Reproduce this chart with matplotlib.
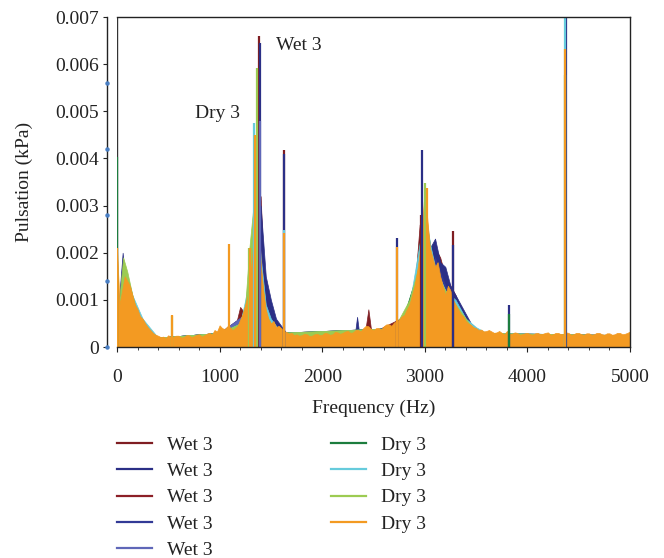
import numpy as np
import matplotlib
matplotlib.use("Agg")
import matplotlib.pyplot as plt
from matplotlib.ticker import MultipleLocator, FuncFormatter
from matplotlib.lines import Line2D
import matplotlib.transforms as mtransforms

plt.rcParams['font.family'] = ['Liberation Serif', 'DejaVu Serif']

# ---------------- data (kPa) ----------------
labels = ["Wet 3", "Wet 3", "Wet 3", "Wet 3", "Wet 3", "Dry 3", "Dry 3", "Dry 3", "Dry 3"]
colors = ["#7f1d22", "#2b2f86", "#8c1f27", "#323a96", "#5f67b8",
          "#1c7d3e", "#66cbdc", "#9ccb52", "#f39a22"]

# Wet 3 (1)
wet1_f = [0, 40, 70, 100, 150, 200, 300, 400, 1000, 1150, 1200, 1250, 1300, 1350, 1400, 1430, 1470, 1550,
          1600, 2420, 2450, 2480, 2850, 2900, 2950, 3000, 3050, 3100, 3150, 3200, 3250, 3300, 3350, 3400,
          3450, 3500, 3550, 5000]
wet1_a = [0.0003, 0.0012, 0.0015, 0.0012, 0.0009, 0.0006, 0.0003, 0.0002, 0.0003, 0.0004, 0.00085, 0.0007,
          0.0013, 0.0027, 0.0032, 0.0016, 0.0008, 0.0004, 0.0003, 0.00035, 0.0008, 0.0003, 0.0007, 0.0012,
          0.0026, 0.0022, 0.002, 0.0021, 0.0019, 0.0015, 0.0013, 0.0011, 0.0008, 0.0006, 0.0004, 0.00032,
          0.00025, 0.00025]
wet1_spike_f = [1384, 1628, 2960, 3275]
wet1_spike_a = [0.0066, 0.00418, 0.0028, 0.00246]

# Wet 3 (2)
wet2_f = [0, 30, 55, 80, 120, 200, 300, 400, 1000, 1200, 1300, 1350, 1400, 1450, 1500, 1550, 1600, 1650,
          2320, 2340, 2360, 2800, 2850, 2900, 2950, 3000, 3050, 3100, 3150, 3200, 3250, 3300, 3350, 3400,
          3450, 3500, 3550, 5000]
wet2_a = [0.0005, 0.0013, 0.002, 0.0014, 0.001, 0.0006, 0.0003, 0.0002, 0.0003, 0.0005, 0.0012, 0.0025,
          0.003, 0.0015, 0.001, 0.0006, 0.00045, 0.0003, 0.0003, 0.00064, 0.0003, 0.0005, 0.0007, 0.0013,
          0.0021, 0.0025, 0.0021, 0.0023, 0.0018, 0.0017, 0.0013, 0.0011, 0.0009, 0.0007, 0.0005, 0.0004,
          0.00028, 0.00025]
wet2_spike_f = [1394, 1628, 2729, 2973, 3275, 3821, 4372]
wet2_spike_a = [0.00645, 0.0041, 0.00231, 0.00418, 0.00216, 0.00089, 0.007]

# Wet 3 (3)
wet3_f = [0, 100, 300, 400, 1000, 1250, 1300, 1380, 1450, 1550, 2700, 2850, 2950, 3050, 3150, 3300, 3400,
          3500, 5000]
wet3_a = [0.0003, 0.0011, 0.0003, 0.0002, 0.0003, 0.0007, 0.0012, 0.0026, 0.0007, 0.0003, 0.0004, 0.0008,
          0.0015, 0.0018, 0.0014, 0.0009, 0.0006, 0.0003, 0.00025]
wet3_spike_f = []
wet3_spike_a = []

# Wet 3 (4)
wet4_f = [0, 80, 300, 400, 1000, 1250, 1300, 1390, 1450, 1550, 2700, 2850, 2950, 3100, 3200, 3400, 3500, 5000]
wet4_a = [0.0003, 0.0012, 0.0003, 0.0002, 0.0003, 0.0007, 0.0011, 0.0024, 0.0008, 0.0003, 0.0004, 0.0008,
          0.0014, 0.0019, 0.0013, 0.0006, 0.0003, 0.00025]
wet4_spike_f = []
wet4_spike_a = []

# Wet 3 (5)
wet5_f = [0, 90, 300, 400, 1000, 1250, 1300, 1390, 1450, 1550, 2700, 2850, 3000, 3200, 3400, 3500, 5000]
wet5_a = [0.0003, 0.001, 0.0003, 0.0002, 0.0003, 0.0007, 0.001, 0.0022, 0.0007, 0.0003, 0.0004, 0.0008,
          0.0016, 0.0012, 0.0005, 0.0003, 0.00025]
wet5_spike_f = [1392]
wet5_spike_a = [0.0048]

# Dry 3 (1)
dry1_f = [0, 20, 50, 100, 200, 300, 400, 1000, 1200, 1250, 1300, 1350, 1400, 1450, 1550, 2700, 2800, 2900,
          2950, 3000, 3100, 3200, 3400, 3500, 5000]
dry1_a = [0.0004, 0.0008, 0.0015, 0.0012, 0.0007, 0.0003, 0.0002, 0.0003, 0.0005, 0.0009, 0.0016, 0.0035,
          0.0016, 0.0007, 0.0003, 0.0004, 0.0007, 0.0014, 0.0022, 0.0028, 0.0016, 0.0011, 0.0005, 0.0003,
          0.00025]
dry1_spike_f = [0, 3821]
dry1_spike_a = [0.00403, 0.0007]

# Dry 3 (2)
dry2_f = [0, 50, 100, 150, 250, 400, 1000, 1200, 1250, 1300, 1340, 1400, 1450, 1500, 1600, 2700, 2850, 2950,
          3000, 3050, 3100, 3200, 3300, 3400, 3500, 3600, 5000]
dry2_a = [0.0004, 0.0013, 0.0015, 0.0011, 0.0006, 0.0002, 0.0003, 0.0005, 0.001, 0.0016, 0.0035, 0.0019,
          0.0009, 0.0006, 0.0003, 0.0004, 0.0009, 0.0022, 0.003, 0.0022, 0.0017, 0.0012, 0.001, 0.0006,
          0.00042, 0.0003, 0.00025]
dry2_spike_f = [1340, 1628, 4366]
dry2_spike_a = [0.00475, 0.00248, 0.007]

# Dry 3 (3)
dry3_f = [0, 30, 60, 100, 150, 200, 300, 400, 1000, 1200, 1250, 1290, 1330, 1360, 1400, 1450, 1550, 2700,
          2850, 2950, 3000, 3050, 3100, 3200, 3300, 3400, 3500, 5000]
dry3_a = [0.0005, 0.0012, 0.0019, 0.0016, 0.0011, 0.0007, 0.00035, 0.0002, 0.0003, 0.0005, 0.0009, 0.0021,
          0.003, 0.0034, 0.0017, 0.0007, 0.0003, 0.0004, 0.001, 0.0018, 0.0028, 0.002, 0.0016, 0.0012,
          0.0009, 0.0006, 0.0003, 0.00025]
dry3_spike_f = [536, 1290, 1360, 3002, 4370]
dry3_spike_a = [0.00065, 0.0021, 0.00592, 0.00348, 0.00577]

# Dry 3 (4) -- sampled every 25 Hz
dry4_f = list(range(0, 5001, 25))
dry4_a = [
    0.0021, 0.0009, 0.0012, 0.0015, 0.0014, 0.0013, 0.0011, 0.0009, 0.0008, 0.00065,
    0.0006, 0.0005, 0.00042, 0.00036, 0.0003, 0.00026, 0.00024, 0.00021, 0.00022, 0.00019,
    0.00025, 0.0002, 0.00022, 0.00024, 0.00024, 0.0002, 0.00021, 0.00025, 0.00025, 0.00021,
    0.00023, 0.00026, 0.00027, 0.00022, 0.00025, 0.00028, 0.0003, 0.00026, 0.00036, 0.00033,
    0.00046, 0.0004, 0.00038, 0.00044, 0.00042, 0.00036, 0.0004, 0.00045, 0.00058, 0.0007,
    0.0009, 0.0011, 0.0015, 0.0021, 0.0045, 0.0032, 0.0018, 0.0012, 0.0008, 0.0006,
    0.0005, 0.00055, 0.00042, 0.00045, 0.0004, 0.00034, 0.00032, 0.00028, 0.0003, 0.00025,
    0.00027, 0.00024, 0.00025, 0.00028, 0.00027, 0.00023, 0.00024, 0.00027, 0.00028, 0.00025,
    0.00026, 0.0003, 0.00029, 0.00026, 0.00027, 0.00032, 0.00031, 0.00028, 0.0003, 0.00033,
    0.00034, 0.0003, 0.00031, 0.00036, 0.00036, 0.00033, 0.0004, 0.00045, 0.00044, 0.00038,
    0.00036, 0.0004, 0.0004, 0.00037, 0.00044, 0.00048, 0.00048, 0.00045, 0.00052, 0.00055,
    0.00058, 0.00065, 0.00068, 0.0008, 0.0009, 0.0011, 0.0013, 0.0016, 0.002, 0.0026,
    0.0034, 0.0027, 0.0021, 0.0019, 0.0017, 0.0018, 0.0015, 0.0013, 0.0011, 0.0013,
    0.0012, 0.001, 0.0009, 0.0008, 0.0007, 0.00065, 0.00055, 0.0005, 0.00047, 0.00042,
    0.0004, 0.00036, 0.00037, 0.00033, 0.00034, 0.00036, 0.00033, 0.0003, 0.00031, 0.00034,
    0.0003, 0.00027, 0.00034, 0.00028, 0.00028, 0.00031, 0.0003, 0.00026, 0.00027, 0.00029,
    0.0003, 0.00027, 0.00026, 0.00029, 0.0003, 0.00027, 0.00028, 0.0003, 0.00031, 0.00026,
    0.00027, 0.0003, 0.0003, 0.00027, 0.00028, 0.00031, 0.0003, 0.00026, 0.00027, 0.0003,
    0.0003, 0.00027, 0.00026, 0.00029, 0.00029, 0.00026, 0.00027, 0.0003, 0.0003, 0.00027,
    0.00026, 0.00029, 0.00029, 0.00026, 0.00027, 0.0003, 0.0003, 0.00027, 0.00028, 0.0003,
    0.00033]
dry4_spike_f = [0, 536, 1092, 1300, 1345, 1628, 2729, 3021, 4366]
dry4_spike_a = [0.0021, 0.00068, 0.00218, 0.0021, 0.0045, 0.00242, 0.00212, 0.00337, 0.00632]

axis_marker_vals = [0, 0.0014, 0.0028, 0.0042, 0.0056]

series = [
    (wet1_f, wet1_a, wet1_spike_f, wet1_spike_a),
    (wet2_f, wet2_a, wet2_spike_f, wet2_spike_a),
    (wet3_f, wet3_a, wet3_spike_f, wet3_spike_a),
    (wet4_f, wet4_a, wet4_spike_f, wet4_spike_a),
    (wet5_f, wet5_a, wet5_spike_f, wet5_spike_a),
    (dry1_f, dry1_a, dry1_spike_f, dry1_spike_a),
    (dry2_f, dry2_a, dry2_spike_f, dry2_spike_a),
    (dry3_f, dry3_a, dry3_spike_f, dry3_spike_a),
    (dry4_f, dry4_a, dry4_spike_f, dry4_spike_a),
]

# ---------------- figure ----------------
W, H = 664, 558
fig = plt.figure(figsize=(W / 100, H / 100), dpi=100)
ax = fig.add_axes([117 / W, 1 - 347 / H, (630 - 117) / W, (347 - 17) / H])

for (f, a, sf, sa), c in zip(series, colors):
    n = min(len(f), len(a))
    ax.fill_between(f[:n], 0, a[:n], color=c, linewidth=0.5, edgecolor=c)
    if sf:
        ax.vlines(sf, 0, sa, color=c, linewidth=1.6)

ax.set_xlim(0, 5000)
ax.set_ylim(0, 0.007)

ax.xaxis.set_major_locator(MultipleLocator(1000))
ax.xaxis.set_minor_locator(MultipleLocator(200))
ax.yaxis.set_major_locator(MultipleLocator(0.001))
ax.yaxis.set_major_formatter(FuncFormatter(lambda v, p: "0" if abs(v) < 1e-12 else f"{v:.3f}"))

for s in ax.spines.values():
    s.set_color("#222222")
    s.set_linewidth(1.0)
ax.spines['left'].set_position(('outward', 7.2))
ax.axvline(0, color="#333333", linewidth=1.0, zorder=0.5)

ax.tick_params(axis='both', which='both', direction='out', colors="#222222", labelsize=14)
ax.tick_params(axis='x', which='major', length=3.5, pad=12)
ax.tick_params(axis='x', which='minor', length=2.5)
ax.tick_params(axis='y', which='major', length=3, pad=3)

# stray markers on y-axis
trans = mtransforms.blended_transform_factory(ax.transAxes, ax.transData)
ax.plot([-10 / 513] * len(axis_marker_vals), axis_marker_vals, linestyle='none', marker='o',
        markersize=2.2, color="#4a7fc4", transform=trans, clip_on=False, zorder=5)

ax.set_xlabel("Frequency (Hz)", fontsize=14, color="#222222", labelpad=10)
ax.set_ylabel("Pulsation (kPa)", fontsize=14, color="#222222", labelpad=16)

ax.text(1550, 0.0064, "Wet 3", fontsize=14, color="#222222", ha='left', va='center')
ax.text(760, 0.00496, "Dry 3", fontsize=14, color="#222222", ha='left', va='center')

# legends
h1 = [Line2D([], [], color=c, lw=1.6) for c in colors[:5]]
h2 = [Line2D([], [], color=c, lw=1.6) for c in colors[5:]]
common = dict(frameon=False, fontsize=14, handlelength=1.8, handletextpad=0.75,
              labelspacing=0.45, borderaxespad=0, borderpad=0, labelcolor="#222222")
leg1 = fig.legend(h1, labels[:5], loc='upper left', bbox_to_anchor=(117 / W, 1 - 436 / H), **common)
leg2 = fig.legend(h2, labels[5:], loc='upper left', bbox_to_anchor=(331 / W, 1 - 436 / H), **common)

fig.savefig("out.png", dpi=100)
